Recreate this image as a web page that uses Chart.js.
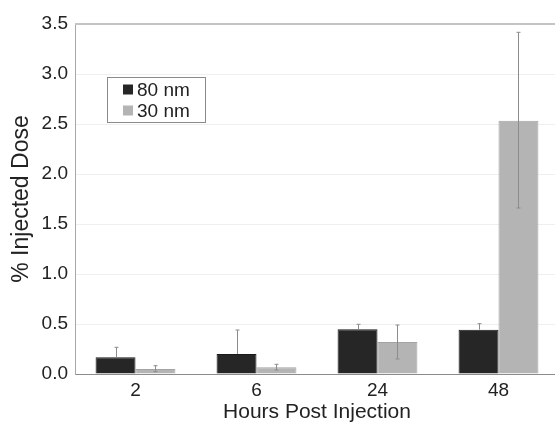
<!DOCTYPE html>
<html>
<head>
<meta charset="utf-8">
<script src="https://cdn.jsdelivr.net/npm/chart.js@4"></script>
<style>
  html, body { margin: 0; padding: 0; background: #fff; overflow: hidden; }
  #wrap { width: 560px; height: 425px; }
</style>
</head>
<body>
<div id="wrap"><canvas id="doseChart"></canvas></div>
<script>
// Data
const hours = ['2', '6', '24', '48'];
const dose80 = [0.167, 0.20, 0.447, 0.443];
const dose80Hi = [0.267, 0.44, 0.497, 0.503];
const dose80Lo = [0.167, 0.20, 0.447, 0.443];
const dose30 = [0.05, 0.067, 0.32, 2.533];
const dose30Hi = [0.083, 0.097, 0.49, 3.417];
const dose30Lo = [0.023, 0.04, 0.15, 1.66];
const yTicks = [0, 0.5, 1.0, 1.5, 2.0, 2.5, 3.0, 3.5];

const errHi = [dose80Hi, dose30Hi];
const errLo = [dose80Lo, dose30Lo];
const fontName = '"Liberation Sans", Arial, sans-serif';

// error bars drawn on top of the bars
const errorBars = {
    id: 'errorBars',
    afterDatasetsDraw(chart) {
        const ctx = chart.ctx;
        const y = chart.scales.y;
        ctx.save();
        ctx.strokeStyle = '#8c8c8c';
        ctx.lineWidth = 1;
        chart.data.datasets.forEach((ds, i) => {
            chart.getDatasetMeta(i).data.forEach((bar, j) => {
                const x = Math.round(bar.x) + 0.5;
                const top = y.getPixelForValue(errHi[i][j]);
                const bot = y.getPixelForValue(errLo[i][j]);
                ctx.beginPath();
                ctx.moveTo(x, top);
                ctx.lineTo(x, bot);
                ctx.moveTo(x - 2, top);
                ctx.lineTo(x + 2, top);
                if (errLo[i][j] < ds.data[j]) {
                    ctx.moveTo(x - 2, bot);
                    ctx.lineTo(x + 2, bot);
                }
                ctx.stroke();
            });
        });
        ctx.restore();
    }
};

// top frame line and boxed legend inside the plot
const frameLegend = {
    id: 'frameLegend',
    afterDraw(chart) {
        const ctx = chart.ctx;
        const a = chart.chartArea;
        ctx.save();
        ctx.strokeStyle = '#c4c4c4';
        ctx.lineWidth = 2;
        ctx.beginPath();
        ctx.moveTo(a.left, a.top);
        ctx.lineTo(a.right, a.top);
        ctx.stroke();

        ctx.fillStyle = '#fff';
        ctx.fillRect(107, 77, 98, 45);
        ctx.strokeStyle = '#8a8a8a';
        ctx.lineWidth = 1;
        ctx.strokeRect(107.5, 77.5, 98, 45);
        ctx.font = '19px ' + fontName;
        ctx.textBaseline = 'middle';
        chart.data.datasets.forEach((ds, i) => {
            const cy = 89.5 + i * 21;
            ctx.fillStyle = ds.backgroundColor;
            ctx.fillRect(123, cy - 5, 10, 10);
            ctx.fillStyle = '#222';
            ctx.fillText(ds.label, 137, cy + 1);
        });
        ctx.restore();
    }
};

const ctx = document.getElementById('doseChart').getContext('2d');
new Chart(ctx, {
    type: 'bar',
    data: {
        labels: hours,
        datasets: [{
            label: '80 nm',
            data: dose80,
            backgroundColor: '#262626',
            borderColor: '#1a1a1a',
            borderWidth: 1,
            categoryPercentage: 0.66,
            barPercentage: 1.0
        }, {
            label: '30 nm',
            data: dose30,
            backgroundColor: '#b4b4b4',
            borderColor: '#a3a3a3',
            borderWidth: 1,
            categoryPercentage: 0.66,
            barPercentage: 1.0
        }]
    },
    options: {
        responsive: true,
        maintainAspectRatio: false,
        animation: false,
        layout: { padding: { top: 24, right: 1, left: 0, bottom: 0 } },
        plugins: {
            legend: { display: false },
            tooltip: { enabled: false }
        },
        scales: {
            x: {
                grid: { display: false, drawTicks: false },
                border: { color: '#8c8c8c', width: 1 },
                ticks: {
                    color: '#222',
                    padding: 5,
                    font: { family: fontName, size: 19 }
                },
                title: {
                    display: true,
                    text: 'Hours Post Injection',
                    color: '#222',
                    padding: { top: 0, bottom: 0 },
                    font: { family: fontName, size: 21 }
                },
                afterFit(scale) { scale.height = 51; }
            },
            y: {
                min: 0,
                max: 3.5,
                afterBuildTicks(scale) {
                    scale.ticks = yTicks.map(v => ({ value: v }));
                },
                grid: { color: '#efefef', drawTicks: false },
                border: { color: '#a8a8a8', width: 1 },
                ticks: {
                    color: '#222',
                    padding: 7,
                    callback: v => v.toFixed(1),
                    font: { family: fontName, size: 19 }
                },
                title: {
                    display: true,
                    text: '% Injected Dose',
                    color: '#222',
                    padding: { top: 8, bottom: 0 },
                    font: { family: fontName, size: 23 }
                },
                afterFit(scale) { scale.width = 75; }
            }
        }
    },
    plugins: [errorBars, frameLegend]
});
</script>
</body>
</html>
